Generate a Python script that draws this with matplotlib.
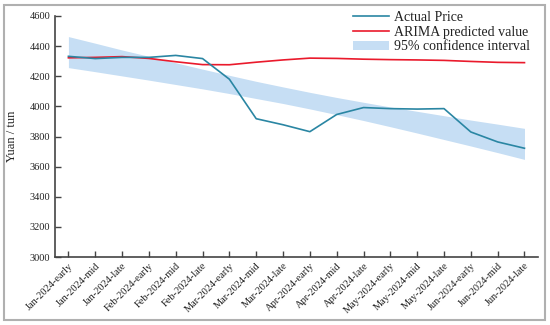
import matplotlib
matplotlib.use("Agg")
import matplotlib.pyplot as plt
from matplotlib.patches import Rectangle

categories = ["Jan-2024-early", "Jan-2024-mid", "Jan-2024-late",
              "Feb-2024-early", "Feb-2024-mid", "Feb-2024-late",
              "Mar-2024-early", "Mar-2024-mid", "Mar-2024-late",
              "Apr-2024-early", "Apr-2024-mid", "Apr-2024-late",
              "May-2024-early", "May-2024-mid", "May-2024-late",
              "Jun-2024-early", "Jun-2024-mid", "Jun-2024-late"]
actual = [4332, 4317, 4325, 4325, 4338, 4317, 4180, 3918, 3878, 3832,
          3946, 3992, 3985, 3982, 3985, 3830, 3764, 3722]
arima = [4322, 4325, 4330, 4318, 4296, 4277, 4276, 4293, 4308, 4320,
         4318, 4313, 4310, 4308, 4305, 4298, 4292, 4290]
ci_upper = [4463, 4419, 4374, 4332, 4289, 4247, 4206, 4166, 4129, 4093,
            4059, 4027, 3996, 3967, 3938, 3909, 3882, 3854]
ci_lower = [4257, 4230, 4202, 4174, 4145, 4116, 4085, 4052, 4019, 3983,
            3945, 3906, 3865, 3823, 3780, 3737, 3693, 3648]
yticks = [3000, 3200, 3400, 3600, 3800, 4000, 4200, 4400, 4600]

plt.rcParams['font.family'] = ['Liberation Serif', 'DejaVu Serif']

fig = plt.figure(figsize=(5.5, 3.25), dpi=100)
ax = fig.add_axes([0.1, 0.209, 0.878, 0.742])

x = list(range(len(categories)))
ax.fill_between(x, ci_lower, ci_upper, color='#c6def4', linewidth=0,
                label='95% confidence interval', zorder=1)
ax.plot(x, actual, color='#2a86a3', linewidth=1.2, label='Actual Price', zorder=3)
ax.plot(x, arima, color='#ea1a2c', linewidth=1.2, label='ARIMA predicted value', zorder=2)

ax.set_xlim(-0.5, 17.5)
ax.set_ylim(3000, 4600)
ax.set_yticks(yticks)
ax.set_xticks(x)
ax.set_xticklabels(categories, rotation=45, ha='right', rotation_mode='anchor',
                   fontsize=7.5)
ax.tick_params(axis='y', labelsize=7.5, direction='in', length=4, width=1, color='#444444')
ax.tick_params(axis='x', direction='in', length=4, width=1, color='#444444', pad=3)
for lab in ax.get_xticklabels():
    lab.set_color('#222222')
for lab in ax.get_yticklabels():
    lab.set_color('#222222')
ax.spines['top'].set_visible(False)
ax.spines['right'].set_visible(False)
ax.spines['left'].set_color('#444444')
ax.spines['bottom'].set_color('#444444')
ax.spines['left'].set_linewidth(1.2)
ax.spines['bottom'].set_linewidth(1.2)
ax.set_ylabel('Yuan / tun', fontsize=9, color='#222222', labelpad=8)

handles, labels = ax.get_legend_handles_labels()
order = [1, 2, 0]
leg = ax.legend([handles[i] for i in order], [labels[i] for i in order],
                loc='upper right', bbox_to_anchor=(1.0, 1.055), frameon=False,
                fontsize=10, handlelength=2.6, handletextpad=0.3,
                labelspacing=0.12, borderaxespad=0.2)
for t in leg.get_texts():
    t.set_color('#222222')

fig.patches.append(Rectangle((0.007, 0.015), 0.984, 0.97, transform=fig.transFigure,
                             fill=False, edgecolor='#b0b0b0', linewidth=1.5))

fig.savefig('out.png', dpi=100)
